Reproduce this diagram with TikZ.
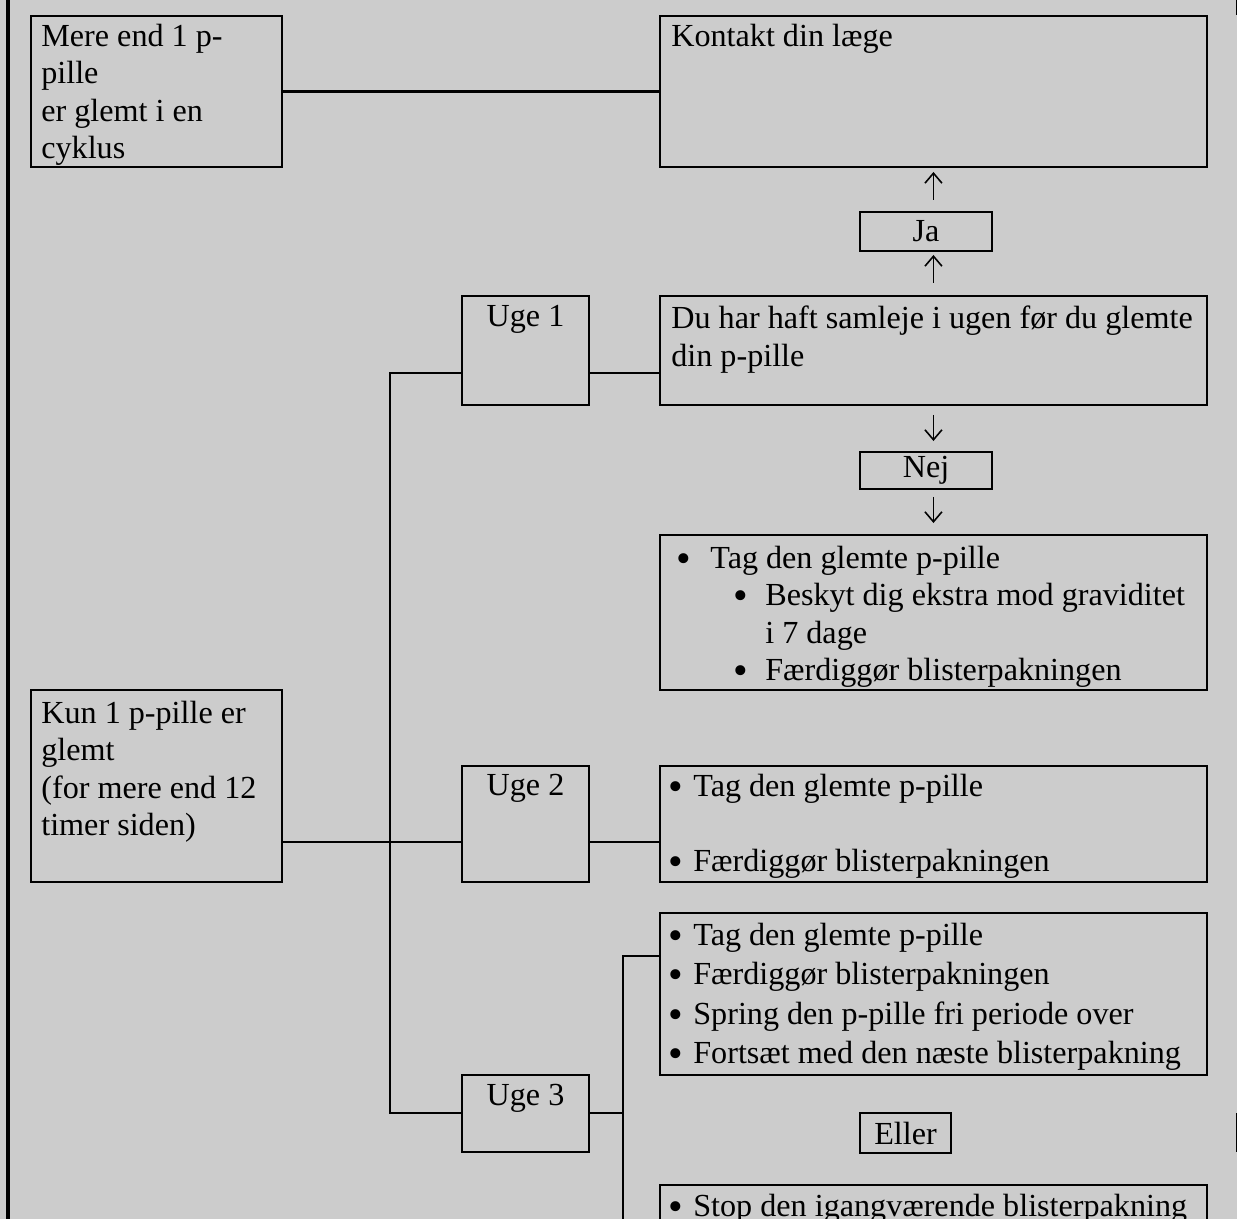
\documentclass[tikz,border=0pt]{standalone}
\usepackage{fontspec}
\setmainfont{Liberation Serif}
\usetikzlibrary{arrows.meta, calc, positioning}
\definecolor{baggrund}{RGB}{204,204,204}
\newcommand{\drawl}{\draw[line width=1.3pt]}
\newcommand{\kugle}{\raisebox{-0.12em}{\scalebox{1.3}{•}}}

\begin{document}
\begin{tikzpicture}[x=0.02cm, y=-0.02cm,
  kasse/.style={draw, line width=1.6pt, anchor=north west, inner sep=0pt, outer sep=0pt,
    font=\fontsize{18.3}{21.4}\selectfont},
  tekst/.style={anchor=north west, inner sep=0pt, align=left, font=\fontsize{18.3}{21.4}\selectfont},
  midt/.style={anchor=base, inner sep=0pt, font=\fontsize{18.3}{21.4}\selectfont},
  pil/.style={line width=0.9pt, -{Straight Barb[length=0.2cm, width=0.34cm]}}]
\useasboundingbox (0,0) rectangle (1237,1219);
\clip (0,0) rectangle (1237,1219);
\fill[baggrund] (0,0) rectangle (1237,1219);
% ramme
\draw[line width=1.8pt] (8,-5) -- (8,1230);
\draw[line width=1.8pt] (1238,-5) -- (1238,15);
\draw[line width=1.8pt] (1238,1113) -- (1238,1152);

% kasser
\node[kasse, minimum width=5.02cm, minimum height=3.02cm] (mere) at (31,16) {};
\node[kasse, minimum width=10.94cm, minimum height=3.02cm] (laege) at (660,16) {};
\node[kasse, minimum width=2.64cm, minimum height=0.78cm] (ja) at (860,212) {Ja};
\node[kasse, minimum width=2.54cm, minimum height=2.18cm] (uge1) at (462,296) {};
\node[kasse, minimum width=10.94cm, minimum height=2.18cm] (samleje) at (660,296) {};
\node[kasse, minimum width=2.64cm, minimum height=0.74cm] (nej) at (860,452) {Nej};
\node[kasse, minimum width=10.94cm, minimum height=3.10cm] (tag1) at (660,535) {};
\node[kasse, minimum width=5.02cm, minimum height=3.84cm] (kun) at (31,690) {};
\node[kasse, minimum width=2.54cm, minimum height=2.32cm] (uge2) at (462,766) {};
\node[kasse, minimum width=10.94cm, minimum height=2.32cm] (tag2) at (660,766) {};
\node[kasse, minimum width=10.94cm, minimum height=3.24cm] (tag3) at (660,913) {};
\node[kasse, minimum width=2.54cm, minimum height=1.54cm] (uge3) at (462,1075) {};
\node[kasse, minimum width=1.82cm, minimum height=0.80cm] (eller) at (860,1113) {Eller};
\node[kasse, minimum width=10.94cm, minimum height=2.00cm] (stop) at (660,1185) {};

% tekster
\node[tekst] (mere-t) at (41,23.5) {Mere end 1 p-\\pille\\er glemt i en\\cyklus};
\node[tekst] (laege-t) at (671,23.5) {Kontakt din læge};
\node[midt] (uge1-t) at (525.5,327) {Uge 1};
\node[tekst] (samleje-t) at (671,305.5) {Du har haft samleje i ugen før du glemte\\din p-pille};
\node[tekst] (tag1-t) at (676,545.5) {\makebox[0.68cm][l]{\kugle}Tag den glemte p-pille\\
  \hspace*{1.14cm}\makebox[0.64cm][l]{\kugle}Beskyt dig ekstra mod graviditet\\
  \hspace*{1.78cm}i 7 dage\\
  \hspace*{1.14cm}\makebox[0.64cm][l]{\kugle}Færdiggør blisterpakningen};
\node[tekst] (kun-t) at (41,700.5) {Kun 1 p-pille er\\glemt\\(for mere end 12\\timer siden)};
\node[midt] (uge2-t) at (525.5,795) {Uge 2};
\node[tekst] (tag2-t) at (668,773.5) {\makebox[0.5cm][l]{\kugle}Tag den glemte p-pille\\[21.4pt]
  \makebox[0.5cm][l]{\kugle}Færdiggør blisterpakningen};
\node[tekst] (tag3-t) at (668,922.5) {\makebox[0.5cm][l]{\kugle}Tag den glemte p-pille\\[1.1pt]
  \makebox[0.5cm][l]{\kugle}Færdiggør blisterpakningen\\[1.1pt]
  \makebox[0.5cm][l]{\kugle}Spring den p-pille fri periode over\\[1.1pt]
  \makebox[0.5cm][l]{\kugle}Fortsæt med den næste blisterpakning};
\node[midt] (uge3-t) at (525.5,1105) {Uge 3};
\node[tekst] (stop-t) at (668,1193.5) {\makebox[0.5cm][l]{\kugle}Stop den igangværende blisterpakning};

% forbindelser
\coordinate (s1) at (390,373);
\coordinate (s2) at (390,842);
\coordinate (s3) at (390,1113);
\coordinate (k1) at (623,956);
\coordinate (k2) at (623,1113);
\coordinate (k3) at (623,1230);

\drawl (mere.east) -- (laege.west);
\drawl (uge1.west |- s1) -- (s1) -- (s3) -- (uge3.west |- s3);
\drawl (uge1.east |- s1) -- (samleje.west |- s1);
\drawl (kun.east |- s2) -- (uge2.west |- s2);
\drawl (uge2.east |- s2) -- (tag2.west |- s2);
\drawl (uge3.east |- k2) -- (k2) -- (k1) -- (tag3.west |- k1);
\drawl (k2) -- (k3);

% pile
\draw[pil, shorten <=0.24cm, shorten >=0.1cm] (ja.north -| laege.south) -- (laege.south);
\draw[pil, shorten <=0.26cm, shorten >=0.08cm] (samleje.north) -- (ja.south -| samleje.north);
\draw[pil, shorten <=0.2cm, shorten >=0.22cm] (samleje.south) -- (nej.north -| samleje.south);
\draw[pil, shorten <=0.16cm, shorten >=0.24cm] (nej.south -| tag1.north) -- (tag1.north);
\end{tikzpicture}
\end{document}
